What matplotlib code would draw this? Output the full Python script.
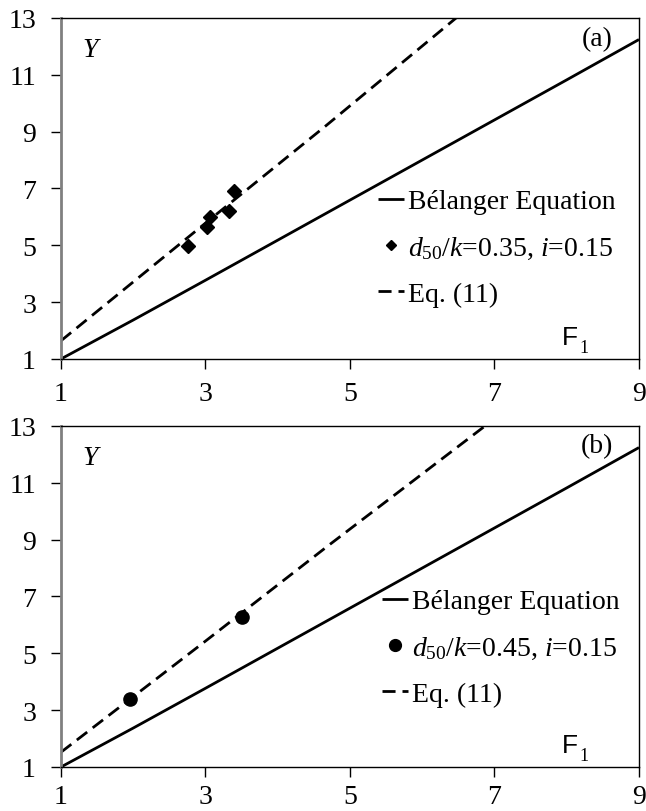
import matplotlib.pyplot as plt

# Belanger equation curve
bel_x = [1, 2, 3, 4, 5, 6, 7, 8, 9]
bel_y = [1.0, 2.37, 3.77, 5.18, 6.59, 8.0, 9.41, 10.82, 12.24]

# Eq. (11) dashed lines
eq_a_x = [1, 3, 4.65, 6.47]
eq_a_y = [1.64, 5.78, 9.17, 13.0]
eq_b_x = [1, 3, 4.7, 6.87]
eq_b_y = [1.52, 5.43, 8.79, 13.0]

# measured points
pts_a_x = [2.76, 3.02, 3.06, 3.33, 3.39]
pts_a_y = [4.97, 5.65, 5.99, 6.22, 6.92]
pts_b_x = [1.95, 3.50]
pts_b_y = [3.39, 6.29]

xticks = [1, 3, 5, 7, 9]
yticks = [1, 3, 5, 7, 9, 11, 13]

serif = 'Liberation Serif'
plt.rcParams['font.family'] = serif
plt.rcParams['mathtext.fontset'] = 'custom'
plt.rcParams['mathtext.rm'] = serif
plt.rcParams['mathtext.it'] = serif + ':italic'

fig = plt.figure(figsize=(6.46, 8.12), dpi=100)
ax1 = fig.add_axes([0.0944, 0.5567, 0.8947, 0.42])
ax2 = fig.add_axes([0.0944, 0.0542, 0.8947, 0.42])

panels = [
    (ax1, eq_a_x, eq_a_y, pts_a_x, pts_a_y, 'D', 7.5, 5.5, '0.35', '(a)', 12.26, (0.548, 0.3255), 9),
    (ax2, eq_b_x, eq_b_y, pts_b_x, pts_b_y, 'o', 9.5, 8.5, '0.45', '(b)', 12.3, (0.555, 0.349), 5),
]

for ax, ex, ey, px, py, mk, ms, lms, dk, tag, tag_y, lpos, xpad in panels:
    l1, = ax.plot(bel_x, bel_y, color='black', lw=2.0, solid_capstyle='butt')
    l3, = ax.plot(ex, ey, color='black', lw=2.0, dashes=(4.7, 2.5))
    l2, = ax.plot(px, py, linestyle='none', marker=mk, ms=ms, color='black')

    ax.set_xlim(1, 9)
    ax.set_ylim(1, 13)
    ax.set_xticks(xticks)
    ax.set_yticks(yticks)
    ax.tick_params(axis='both', labelsize=20, direction='out', length=7,
                   width=1, color='black')
    ax.tick_params(axis='y', pad=11)
    ax.tick_params(axis='x', pad=xpad)
    for s in ['top', 'right', 'bottom']:
        ax.spines[s].set_linewidth(1)
        ax.spines[s].set_color('black')
    ax.spines['left'].set_color('#808080')
    ax.spines['left'].set_linewidth(2)

    ax.text(1.3, 11.9, 'Y', fontsize=20, style='italic', va='center', ha='left')
    ax.text(8.42, tag_y, tag, fontsize=20, va='center', ha='center')
    ax.text(7.93, 1.78, 'F', fontsize=19, family='Liberation Sans',
            va='center', ha='left')
    ax.text(8.18, 1.42, '1', fontsize=13, va='center', ha='left')

    # legend marker handle is drawn smaller than the plotted marker
    h2 = plt.Line2D([], [], linestyle='none', marker=mk, ms=lms, color='black')
    ax.legend([l1, h2, l3],
              ['Bélanger Equation',
               r'$d_{50}/k$=' + dk + ', $i$=0.15',
               'Eq. (11)'],
              loc='center left', bbox_to_anchor=lpos, frameon=False,
              fontsize=20, handlelength=0.95, handletextpad=0.15,
              labelspacing=0.74, borderpad=0, borderaxespad=0)

fig.savefig('out.png', dpi=100)
